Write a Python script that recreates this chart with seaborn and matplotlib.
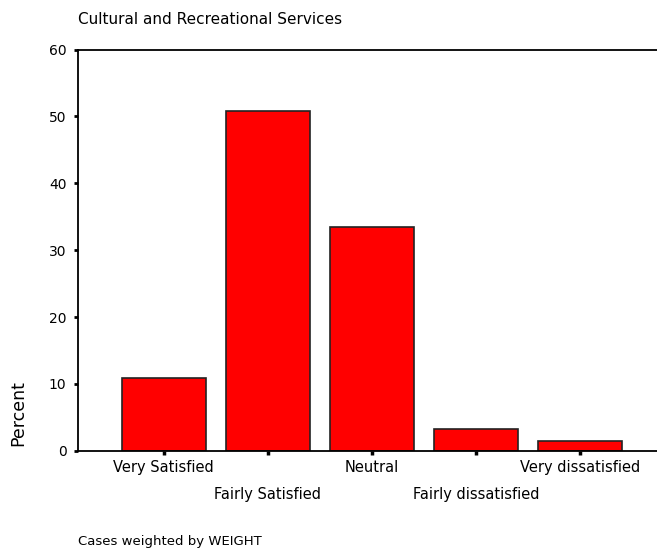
import matplotlib
matplotlib.use("Agg")
import matplotlib.pyplot as plt
import seaborn as sns
import pandas as pd

categories = ["Very Satisfied", "Fairly Satisfied", "Neutral",
              "Fairly dissatisfied", "Very dissatisfied"]
percent = [10.85, 50.75, 33.5, 3.2, 1.4]
y_ticks = [0, 10, 20, 30, 40, 50, 60]

df = pd.DataFrame({"category": categories, "percent": percent})

sns.set_style("white")
plt.rcParams["font.family"] = ["DejaVu Sans"]
plt.rcParams["text.color"] = "black"

fig = plt.figure(figsize=(6.57, 5.51), dpi=100)
ax = fig.add_axes([0.118, 0.182, 0.882, 0.728])

sns.barplot(data=df, x="category", y="percent", color="#ff0000",
            edgecolor="#222222", linewidth=1.2, width=0.81, saturation=1, ax=ax)

ax.set_ylim(0, 60)
ax.set_xlim(-0.83, 4.74)
ax.set_yticks(y_ticks)
ax.set_yticklabels([str(t) for t in y_ticks], fontsize=10, color="black")
ax.set_xticks(range(len(categories)))
ax.set_xticklabels([])
ax.tick_params(axis="y", left=True, direction="out", length=3, width=2, pad=5, color="black")
ax.tick_params(axis="x", bottom=True, direction="out", length=3, width=2.5, color="black")

# staggered category labels
for i, name in enumerate(categories):
    y = -0.022 if i % 2 == 0 else -0.09
    ax.text(i, y, name, transform=ax.get_xaxis_transform(), fontsize=10.5,
            ha="center", va="top", color="black")

for side in ["left", "top", "bottom"]:
    ax.spines[side].set_visible(True)
    ax.spines[side].set_color("black")
    ax.spines[side].set_linewidth(1.3)
ax.spines["right"].set_visible(False)

ax.set_xlabel("")
ax.set_ylabel("")
fig.text(0.028, 0.25, "Percent", rotation=90, ha="center", va="center", fontsize=12.5)
fig.text(0.118, 0.965, "Cultural and Recreational Services", ha="left", va="center", fontsize=11)
fig.text(0.118, 0.017, "Cases weighted by WEIGHT", ha="left", va="center", fontsize=9.5)

fig.savefig("out.png", dpi=100)
